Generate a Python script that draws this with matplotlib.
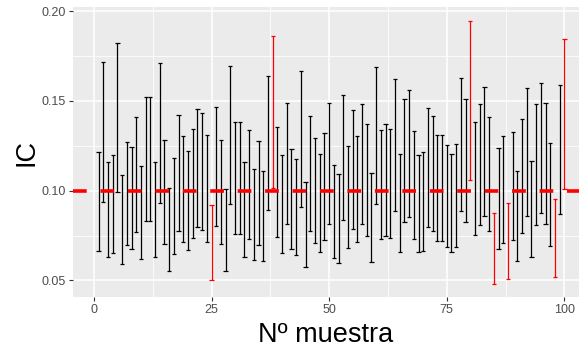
import numpy as np
from matplotlib import pyplot as plt

# intervalos de confianza (IC) para 100 muestras, valor real p = 0.10
p_real = 0.10
muestra = list(range(1, 101))

ic_sup = [0.1216, 0.1715, 0.1160, 0.1196, 0.1821, 0.1089, 0.1274, 0.1242, 0.1410, 0.1138,
          0.1520, 0.1520, 0.1162, 0.1711, 0.1285, 0.1015, 0.1184, 0.1421, 0.1305, 0.1223,
          0.1346, 0.1456, 0.1432, 0.1311, 0.0920, 0.1469, 0.1281, 0.1009, 0.1696, 0.1384,
          0.1384, 0.1162, 0.1339, 0.1119, 0.1276, 0.1108, 0.1637, 0.1860, 0.1354, 0.1196,
          0.1490, 0.1233, 0.1179, 0.1665, 0.1048, 0.1415, 0.1296, 0.1205, 0.1324, 0.1490,
          0.1142, 0.1093, 0.1533, 0.1250, 0.1449, 0.1307, 0.1484, 0.1372, 0.1099, 0.1691,
          0.1337, 0.1371, 0.1343, 0.1620, 0.1203, 0.1512, 0.1559, 0.1335, 0.1201, 0.1216,
          0.1458, 0.1415, 0.1313, 0.1311, 0.1253, 0.1203, 0.1259, 0.1628, 0.1510, 0.1944,
          0.1384, 0.1482, 0.1575, 0.1413, 0.0875, 0.1236, 0.1303, 0.0931, 0.1326, 0.1110,
          0.1402, 0.1574, 0.1164, 0.1484, 0.1601, 0.1490, 0.1266, 0.0955, 0.1590, 0.1845]

ic_inf = [0.0663, 0.0937, 0.0633, 0.0652, 0.0993, 0.0592, 0.0695, 0.0676, 0.0771, 0.0620,
          0.0831, 0.0831, 0.0633, 0.0933, 0.0702, 0.0553, 0.0646, 0.0777, 0.0715, 0.0670,
          0.0736, 0.0797, 0.0782, 0.0715, 0.0503, 0.0803, 0.0700, 0.0551, 0.0927, 0.0758,
          0.0758, 0.0633, 0.0732, 0.0613, 0.0696, 0.0607, 0.0894, 0.1017, 0.0739, 0.0654,
          0.0816, 0.0674, 0.0642, 0.0909, 0.0574, 0.0775, 0.0709, 0.0657, 0.0726, 0.0812,
          0.0624, 0.0596, 0.0838, 0.0682, 0.0788, 0.0715, 0.0812, 0.0750, 0.0600, 0.0926,
          0.0732, 0.0749, 0.0734, 0.0886, 0.0657, 0.0825, 0.0851, 0.0730, 0.0656, 0.0665,
          0.0795, 0.0775, 0.0719, 0.0719, 0.0687, 0.0656, 0.0687, 0.0886, 0.0825, 0.1061,
          0.0754, 0.0808, 0.0860, 0.0773, 0.0477, 0.0676, 0.0709, 0.0510, 0.0726, 0.0607,
          0.0765, 0.0858, 0.0633, 0.0810, 0.0877, 0.0812, 0.0689, 0.0521, 0.0870, 0.1007]

plt.rcParams['font.family'] = ['Liberation Sans', 'DejaVu Sans']

x = np.array(muestra)
lo = np.array(ic_inf)
hi = np.array(ic_sup)
# rojo si el IC no contiene al valor real
colores = np.where((lo <= p_real) & (hi >= p_real), 'black', 'red')

fig = plt.figure(figsize=(5.79, 3.47), dpi=100)
ax = fig.add_axes([73.3 / 579, 1 - 296.7 / 347, 1 - 73.3 / 579, (296.7 - 7.3) / 347])
ax.set_facecolor('#EBEBEB')

ax.vlines(x, lo, hi, colors=colores, linewidth=0.9, zorder=3)
ax.hlines(lo, x - 0.45, x + 0.45, colors=colores, linewidth=0.9, zorder=3)
ax.hlines(hi, x - 0.45, x + 0.45, colors=colores, linewidth=0.9, zorder=3)

ax.axhline(p_real, color='red', linewidth=2.6, linestyle=(0, (3.8, 3.8)), zorder=4)

ax.set_xlim(-4.37, 103.1)
ax.set_ylim(0.0409, 0.2022)
ax.set_xticks([0, 25, 50, 75, 100])
ax.set_xticks([12.5, 37.5, 62.5, 87.5], minor=True)
ax.set_yticks([0.05, 0.10, 0.15, 0.20])
ax.set_yticklabels(['0.05', '0.10', '0.15', '0.20'])
ax.set_yticks([0.075, 0.125, 0.175], minor=True)

ax.grid(which='major', color='white', linewidth=1.1, zorder=0)
ax.grid(which='minor', color='white', linewidth=0.55, zorder=0)
ax.set_axisbelow(True)
for s in ax.spines.values():
    s.set_visible(False)

ax.tick_params(which='major', length=2.6, width=0.8, color='#333333',
               labelsize=9, labelcolor='#4D4D4D', pad=2.5)
ax.tick_params(which='minor', length=0)

fig.text(325.5 / 579, 4.5 / 347, 'Nº muestra', fontsize=19.5, ha='center', va='baseline')
fig.text(33 / 579, 1 - 152 / 347, 'IC', fontsize=19.5, rotation=90,
         rotation_mode='anchor', ha='center', va='baseline')

plt.savefig('out.png', dpi=100)
